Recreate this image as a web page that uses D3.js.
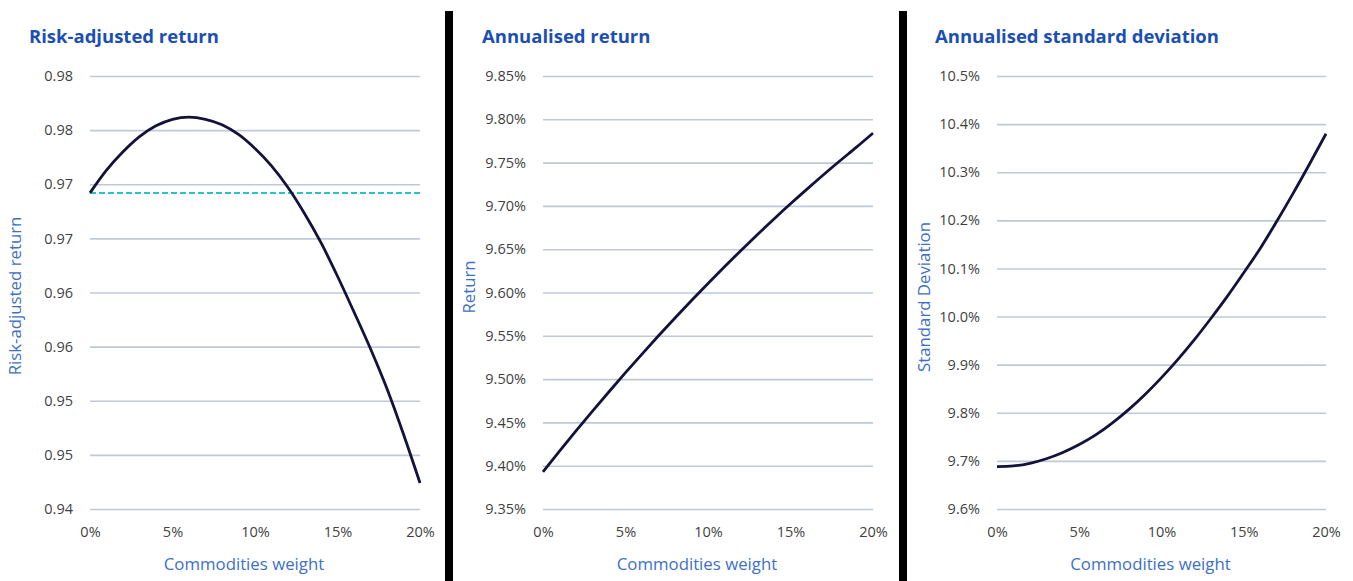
<!DOCTYPE html>
<html>
<head>
<meta charset="utf-8">
<script src="https://cdn.jsdelivr.net/npm/d3@7"></script>
<style>
  html, body { margin: 0; padding: 0; background: #ffffff; }
  svg { display: block; }
  text { font-family: "Open Sans", "Noto Sans", sans-serif; }
</style>
</head>
<body>
<svg id="chart" width="1353" height="581"></svg>
<script>
// ---------- DATA ----------
const weights = [0,1,2,3,4,5,6,7,8,9,10,11,12,13,14,15,16,17,18,19,20];
const xTickValues = [0, 5, 10, 15, 20];
const xTickLabels = ["0%", "5%", "10%", "15%", "20%"];

const riskAdjusted = [0.9692, 0.9713, 0.9730, 0.9744, 0.9754, 0.9760, 0.9762, 0.9760, 0.9755, 0.9746,
                      0.9733, 0.9717, 0.9697, 0.9673, 0.9646, 0.9615, 0.9582, 0.9548, 0.9511, 0.9469, 0.9424];
const riskAdjustedBaseline = 0.9692;
const riskTickValues = [0.940, 0.945, 0.950, 0.955, 0.960, 0.965, 0.970, 0.975, 0.980];
const riskTickLabels = ["0.94", "0.95", "0.95", "0.96", "0.96", "0.97", "0.97", "0.98", "0.98"];

const annReturn = [9.393, 9.4168, 9.4401, 9.4630, 9.4854, 9.5074, 9.5289, 9.5500, 9.5706, 9.5908,
                   9.6105, 9.6298, 9.6486, 9.6670, 9.6849, 9.7024, 9.7194, 9.7360, 9.7521, 9.7678, 9.784];
const returnTickValues = [9.35, 9.40, 9.45, 9.50, 9.55, 9.60, 9.65, 9.70, 9.75, 9.80, 9.85];
const returnTickLabels = ["9.35%", "9.40%", "9.45%", "9.50%", "9.55%", "9.60%", "9.65%", "9.70%", "9.75%", "9.80%", "9.85%"];

const annStdDev = [9.688, 9.6895, 9.6950, 9.7045, 9.7175, 9.7340, 9.7540, 9.7785, 9.8065, 9.838,
                   9.873, 9.911, 9.952, 9.996, 10.042, 10.091, 10.1415, 10.1975, 10.256, 10.317, 10.380];
const stdTickValues = [9.6, 9.7, 9.8, 9.9, 10.0, 10.1, 10.2, 10.3, 10.4, 10.5];
const stdTickLabels = ["9.6%", "9.7%", "9.8%", "9.9%", "10.0%", "10.1%", "10.2%", "10.3%", "10.4%", "10.5%"];

// ---------- LAYOUT ----------
const svg = d3.select("#chart");
const plotTop = 76, plotBottom = 509;

const panels = [
  { title: "Risk-adjusted return", yLabel: "Risk-adjusted return", x0: 90, x1: 420, titleX: 29,
    yLabelX: 21, yLabelY: 296, values: riskAdjusted, domain: [0.94, 0.98],
    tickValues: riskTickValues, tickLabels: riskTickLabels, baseline: riskAdjustedBaseline },
  { title: "Annualised return", yLabel: "Return", x0: 543, x1: 873, titleX: 482,
    yLabelX: 475, yLabelY: 287, values: annReturn, domain: [9.35, 9.85],
    tickValues: returnTickValues, tickLabels: returnTickLabels },
  { title: "Annualised standard deviation", yLabel: "Standard Deviation", x0: 997, x1: 1326, titleX: 935,
    yLabelX: 930, yLabelY: 297, values: annStdDev, domain: [9.6, 10.5],
    tickValues: stdTickValues, tickLabels: stdTickLabels }
];

panels.forEach(p => {
  const x = d3.scaleLinear().domain([0, 20]).range([p.x0, p.x1]);
  const y = d3.scaleLinear().domain(p.domain).range([plotBottom, plotTop]);
  const g = svg.append("g");

  // y axis with gridlines
  const yAxis = d3.axisLeft(y)
    .tickValues(p.tickValues)
    .tickFormat((d, i) => p.tickLabels[i])
    .tickSize(-(p.x1 - p.x0))
    .tickPadding(17);
  const ya = g.append("g").attr("transform", `translate(${p.x0},0)`).call(yAxis);
  ya.select(".domain").remove();
  ya.selectAll(".tick line").attr("stroke", "#bfcad6").attr("stroke-width", 1.6);
  ya.selectAll(".tick text").attr("fill", "#3f3f3f").style("font-size", "14.5px")
    .style("font-family", "'Open Sans', sans-serif");

  // x axis
  const xAxis = d3.axisBottom(x)
    .tickValues(xTickValues)
    .tickFormat((d, i) => xTickLabels[i])
    .tickSize(0)
    .tickPadding(18);
  const xa = g.append("g").attr("transform", `translate(0,${plotBottom})`).call(xAxis);
  xa.select(".domain").remove();
  xa.selectAll(".tick text").attr("fill", "#3f3f3f").style("font-size", "14.5px")
    .style("font-family", "'Open Sans', sans-serif");

  // baseline dashed
  if (p.baseline !== undefined) {
    g.append("line")
      .attr("x1", x(0)).attr("x2", x(20))
      .attr("y1", y(p.baseline)).attr("y2", y(p.baseline))
      .attr("stroke", "#2cc0c8").attr("stroke-width", 2)
      .attr("stroke-dasharray", "6,3");
  }

  // line
  const line = d3.line().x((d, i) => x(weights[i])).y(d => y(d)).curve(d3.curveMonotoneX);
  g.append("path").datum(p.values)
    .attr("d", line)
    .attr("fill", "none")
    .attr("stroke", "#12123c")
    .attr("stroke-width", 2.8)
    .attr("stroke-linejoin", "round");

  // title
  g.append("text").attr("x", p.titleX).attr("y", 43)
    .attr("fill", "#1b4fb3").style("font-weight", "700").style("font-size", "18.5px")
    .text(p.title);

  // y label
  g.append("text")
    .attr("transform", `translate(${p.yLabelX},${p.yLabelY}) rotate(-90)`)
    .attr("text-anchor", "middle")
    .attr("fill", "#3d70c8").style("font-size", "16.8px")
    .text(p.yLabel);

  // x label
  g.append("text")
    .attr("x", (p.x0 + p.x1) / 2 - 11).attr("y", 570)
    .attr("text-anchor", "middle")
    .attr("fill", "#3d70c8").style("font-size", "16.8px")
    .text("Commodities weight");
});

// separators
[445, 899].forEach(sx => {
  svg.append("rect").attr("x", sx).attr("y", 11).attr("width", 8).attr("height", 570).attr("fill", "#000000");
});
</script>
</body>
</html>
